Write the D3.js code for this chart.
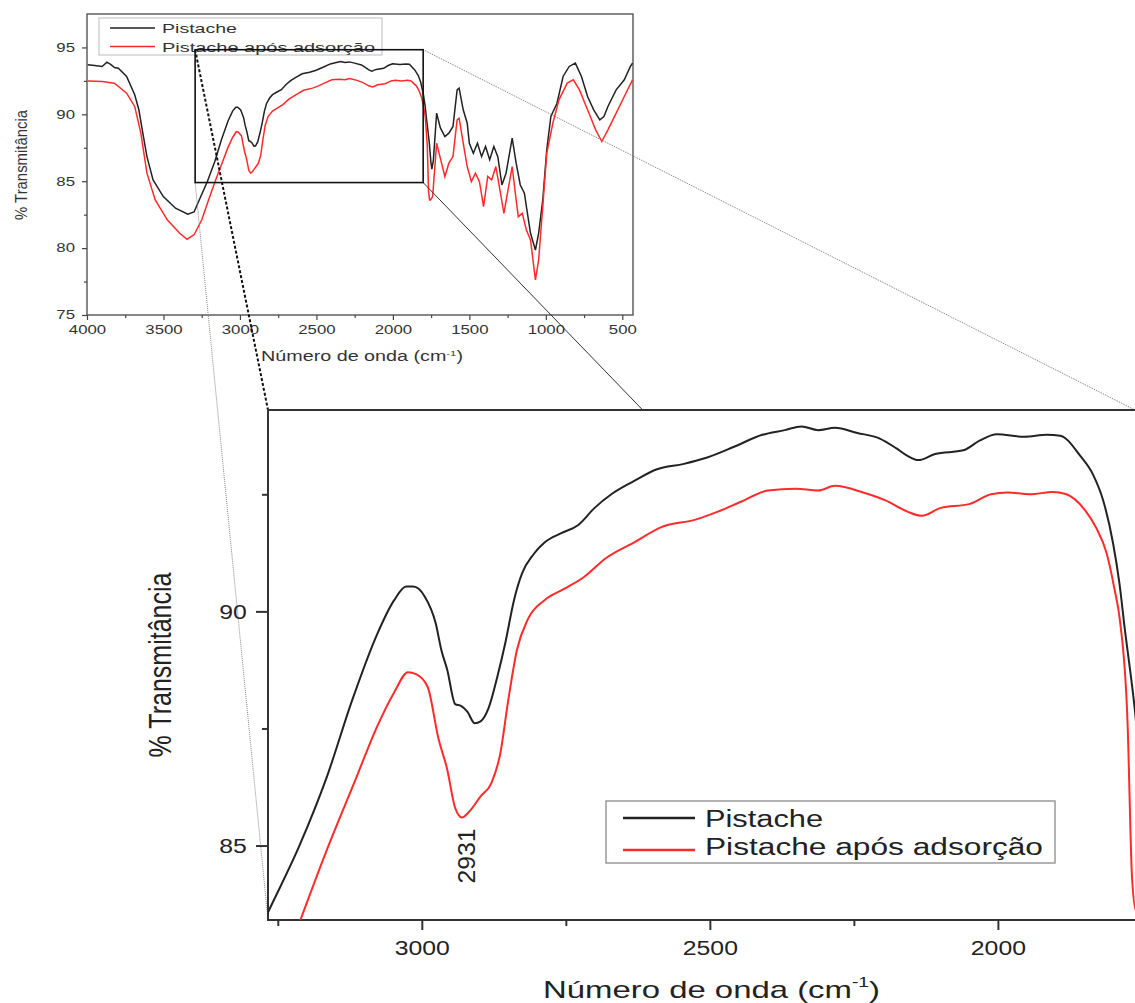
<!DOCTYPE html>
<html>
<head>
<script src="https://d3js.org/d3.v7.min.js"></script>
<style>
  body { margin: 0; background: #fff; }
  svg { display: block; font-family: Arial, "Liberation Sans", sans-serif; }
  .axis path { display: none; }
  .top-axis line { stroke: #444; stroke-width: 1.2px; }
  .top-axis text { font-size: 12px; fill: #333; }
  .zoom-axis line { stroke: #333; stroke-width: 2px; }
  .zoom-axis text { font-size: 21px; fill: #222; }
</style>
</head>
<body>
<script>
// Pistache (black) : [wavenumber cm-1, % transmittance]
var pistache = [
  [3995,93.70],[3950,93.65],[3901,93.58],[3870,93.9],[3848,93.75],[3820,93.5],[3795,93.45],
  [3741,92.83],[3688,91.46],[3661,90.34],[3635,88.59],[3608,86.84],[3568,85.1],[3501,83.85],
  [3421,82.98],[3341,82.53],[3300,82.7],[3266,83.6],[3213,84.98],[3165,86.46],[3121,88.10],
  [3078,89.5],[3048,90.24],[3027,90.53],[3015,90.53],[2995,90.32],[2976,89.75],[2966,89.17],
  [2956,88.76],[2942,88.02],[2932,87.98],[2921,87.86],[2908,87.61],[2898,87.65],[2884,87.94],
  [2869,88.6],[2855,89.33],[2840,90.24],[2826,90.81],[2806,91.22],[2787,91.47],[2758,91.67],
  [2729,91.84],[2700,92.21],[2671,92.5],[2632,92.78],[2593,93.03],[2545,93.15],[2506,93.28],
  [2457,93.52],[2409,93.77],[2370,93.87],[2341,93.95],[2312,93.87],[2283,93.92],[2244,93.81],
  [2205,93.69],[2176,93.48],[2157,93.32],[2138,93.23],[2109,93.36],[2060,93.44],[2031,93.65],
  [2002,93.78],[1954,93.73],[1915,93.77],[1892,93.75],[1857,93.32],[1834,92.9],[1818,92.4],
  [1800,91.45],[1789,90.6],[1779,89.55],[1770,88.7],[1762,87.87],[1752,86.5],[1745,85.9],
  [1735,86.6],[1714,90.09],[1690,89.0],[1660,88.34],[1634,88.59],[1607,89.09],[1580,91.83],
  [1567,91.96],[1540,90.34],[1514,89.34],[1500,87.84],[1474,87.09],[1447,87.84],[1420,86.84],
  [1394,87.59],[1367,86.6],[1340,87.59],[1314,86.84],[1287,84.72],[1260,85.6],[1220,88.22],
  [1194,86.35],[1167,84.72],[1140,84.1],[1127,83.1],[1100,81.11],[1068,79.86],[1047,81.11],
  [1020,83.6],[994,87.34],[967,89.84],[927,90.83],[887,92.83],[847,93.58],[807,93.83],
  [767,92.83],[727,91.33],[687,90.34],[647,89.59],[620,89.84],[594,90.59],[540,91.83],
  [487,92.58],[447,93.58],[433,93.83]
];

// Pistache após adsorção (red)
var pistacheAds = [
  [3995,92.5],[3900,92.45],[3821,92.33],[3741,91.58],[3688,90.59],[3648,88.59],[3608,85.6],
  [3554,83.6],[3474,82.1],[3394,81.11],[3346,80.66],[3300,81.0],[3250,82.1],[3208,83.5],
  [3165,84.9],[3116,86.38],[3078,87.53],[3048,88.27],[3024,88.7],[3010,88.66],[2990,88.39],
  [2971,87.28],[2956,86.63],[2942,85.80],[2930,85.6],[2918,85.72],[2898,86.05],[2879,86.34],
  [2864,86.95],[2850,88.1],[2835,89.17],[2816,89.83],[2787,90.24],[2753,90.48],[2719,90.73],
  [2680,91.14],[2632,91.47],[2584,91.8],[2525,91.96],[2486,92.13],[2448,92.33],[2399,92.58],
  [2351,92.62],[2312,92.58],[2283,92.68],[2234,92.54],[2195,92.37],[2157,92.13],[2132,92.04],
  [2099,92.21],[2050,92.29],[2012,92.5],[1983,92.54],[1944,92.5],[1905,92.55],[1881,92.5],
  [1847,92.13],[1830,91.8],[1811,91.23],[1798,90.5],[1788,89.79],[1775,87.65],[1767,84.28],
  [1760,83.6],[1754,83.6],[1740,83.85],[1714,87.84],[1687,86.6],[1660,85.35],[1634,86.35],
  [1607,86.84],[1580,89.59],[1567,89.71],[1540,87.84],[1514,86.1],[1487,84.97],[1460,85.6],
  [1434,84.97],[1407,83.1],[1380,85.35],[1354,85.1],[1327,86.1],[1300,84.35],[1274,82.6],
  [1247,84.35],[1220,86.1],[1194,83.6],[1180,82.35],[1154,82.6],[1127,81.36],[1100,80.61],
  [1068,77.62],[1047,79.11],[1020,83.1],[994,87.09],[954,89.34],[914,91.08],[860,92.33],
  [820,92.58],[780,91.83],[727,90.34],[674,88.84],[634,87.97],[594,88.84],[540,90.09],
  [487,91.33],[433,92.58]
];

var seriesNames = ["Pistache", "Pistache após adsorção"];
var seriesColors = ["#222", "#ff2a2a"];

var topXTicks = [4000, 3500, 3000, 2500, 2000, 1500, 1000, 500];
var topXMinor = [3750, 3250, 2750, 2250, 1750, 1250, 750];
var topYTicks = [75, 80, 85, 90, 95];
var topYMinor = [77.5, 82.5, 87.5, 92.5];

var zoomXTicks = [3000, 2500, 2000];
var zoomXMinor = [3250, 2750, 2250];
var zoomYTicks = [85, 90];
var zoomYMinor = [87.5, 92.5];

// zoomed window drawn on the overview
var zoomWn = [3293, 1802];
var zoomT = [84.9, 94.83];
var peakWn = 2931;

var width = 1135, height = 1003;
var fmt = d3.format("d");
var svg = d3.select("body").append("svg")
    .attr("width", width)
    .attr("height", height);

// ---------- overview chart ----------
var xt = d3.scaleLinear().domain([4000, 430]).range([87, 633]);
var yt = d3.scaleLinear().domain([75, 97.5]).range([315, 14]);

var overview = svg.append("g");

overview.append("rect")
    .attr("x", 87).attr("y", 14)
    .attr("width", 633 - 87).attr("height", 315 - 14)
    .attr("fill", "#fff").attr("stroke", "#555").attr("stroke-width", 1.4);

overview.append("g").attr("class", "axis top-axis")
    .attr("transform", "translate(0,315)")
    .call(d3.axisBottom(xt).tickValues(topXTicks).tickFormat(fmt).tickSize(5).tickPadding(5).tickSizeOuter(0))
  .selectAll("text").attr("transform", "scale(1.4,1)");
overview.append("g").attr("class", "axis top-axis")
    .attr("transform", "translate(0,315)")
    .call(d3.axisBottom(xt).tickValues(topXMinor).tickSize(3).tickFormat("").tickSizeOuter(0));
overview.append("g").attr("class", "axis top-axis")
    .attr("transform", "translate(87,0)")
    .call(d3.axisLeft(yt).tickValues(topYTicks).tickFormat(fmt).tickSize(5).tickPadding(3.6).tickSizeOuter(0))
  .selectAll("text").attr("transform", "scale(1.4,1)");
overview.append("g").attr("class", "axis top-axis")
    .attr("transform", "translate(87,0)")
    .call(d3.axisLeft(yt).tickValues(topYMinor).tickSize(3).tickFormat("").tickSizeOuter(0));

var lineTop = d3.line()
    .x(function(d) { return xt(d[0]); })
    .y(function(d) { return yt(d[1]); });

overview.selectAll(".top-series")
    .data([pistache, pistacheAds])
  .enter().append("path")
    .attr("class", "top-series")
    .attr("fill", "none")
    .attr("stroke", function(d, i) { return seriesColors[i]; })
    .attr("stroke-width", 1.5)
    .attr("d", lineTop);

// overview legend
overview.append("rect")
    .attr("x", 99).attr("y", 18).attr("width", 283).attr("height", 37)
    .attr("fill", "#fff").attr("stroke", "#bbb").attr("stroke-width", 1);
var topLegend = overview.selectAll(".top-leg")
    .data(seriesNames)
  .enter().append("g")
    .attr("class", "top-leg")
    .attr("transform", function(d, i) { return "translate(0," + (28 + i * 18.5) + ")"; });
topLegend.append("line")
    .attr("x1", 110).attr("x2", 155)
    .attr("stroke", function(d, i) { return seriesColors[i]; })
    .attr("stroke-width", 1.5);
topLegend.append("text")
    .attr("x", 162).attr("y", 5)
    .attr("font-size", 13.5).attr("fill", "#333")
    .attr("textLength", function(d, i) { return i ? 213 : 75; })
    .attr("lengthAdjust", "spacingAndGlyphs")
    .text(function(d) { return d; });

var topXLabel = overview.append("text")
    .attr("x", 261).attr("y", 361)
    .attr("font-size", 14).attr("fill", "#333")
    .attr("textLength", 202).attr("lengthAdjust", "spacingAndGlyphs");
topXLabel.append("tspan").text("Número de onda (cm");
topXLabel.append("tspan").attr("dy", -5).attr("font-size", 8).text("-1");
topXLabel.append("tspan").attr("dy", 5).text(")");

overview.append("text")
    .attr("transform", "translate(26.5,165) rotate(-90) scale(1,1.3)")
    .attr("text-anchor", "middle")
    .attr("font-size", 13).attr("fill", "#333")
    .attr("textLength", 110).attr("lengthAdjust", "spacingAndGlyphs")
    .text("% Transmitância");

// zoom window on the overview
var bx0 = xt(zoomWn[0]), bx1 = xt(zoomWn[1]);
var by0 = yt(zoomT[1]), by1 = yt(zoomT[0]);

// ---------- zoomed chart geometry ----------
var zl = 268, zr = 1135, zt = 410, zb = 920;
var xz = d3.scaleLinear().domain([3267, 1762]).range([zl, zr]);
var yz = d3.scaleLinear().domain([83.41, 94.3]).range([zb, zt]);

// connector lines
var connectors = [
  { a: [bx0, by0], b: [zl, zt], color: "#111", w: 2, dash: "3,2" },
  { a: [bx0, by1], b: [zl, zb], color: "#888", w: 1, dash: "1,1" },
  { a: [bx1, by0], b: [zr, zt], color: "#777", w: 1, dash: "1,1" },
  { a: [bx1, by1], b: [zr, zb], color: "#333", w: 1, dash: null }
];
svg.selectAll(".connector")
    .data(connectors)
  .enter().append("line")
    .attr("class", "connector")
    .attr("x1", function(d) { return d.a[0]; })
    .attr("y1", function(d) { return d.a[1]; })
    .attr("x2", function(d) { return d.b[0]; })
    .attr("y2", function(d) { return d.b[1]; })
    .attr("stroke", function(d) { return d.color; })
    .attr("stroke-width", function(d) { return d.w; })
    .attr("stroke-dasharray", function(d) { return d.dash; });

svg.append("rect")
    .attr("x", bx0).attr("y", by0)
    .attr("width", bx1 - bx0).attr("height", by1 - by0)
    .attr("fill", "none").attr("stroke", "#111").attr("stroke-width", 1.6);

// ---------- zoomed chart ----------
var zoom = svg.append("g");

zoom.append("rect")
    .attr("x", zl).attr("y", zt)
    .attr("width", zr - zl + 4).attr("height", zb - zt)
    .attr("fill", "#fff").attr("stroke", "#333").attr("stroke-width", 2);

svg.append("defs").append("clipPath").attr("id", "zclip")
  .append("rect")
    .attr("x", zl).attr("y", zt)
    .attr("width", zr - zl).attr("height", zb - zt);

var lineZoom = d3.line()
    .curve(d3.curveMonotoneX)
    .x(function(d) { return xz(d[0]); })
    .y(function(d) { return yz(d[1]); });

zoom.append("g").attr("clip-path", "url(#zclip)")
  .selectAll(".zoom-series")
    .data([pistache, pistacheAds])
  .enter().append("path")
    .attr("class", "zoom-series")
    .attr("fill", "none")
    .attr("stroke", function(d, i) { return seriesColors[i]; })
    .attr("stroke-width", 2)
    .attr("d", lineZoom);

zoom.append("g").attr("class", "axis zoom-axis")
    .attr("transform", "translate(0," + zb + ")")
    .call(d3.axisBottom(xz).tickValues(zoomXTicks).tickFormat(fmt).tickSize(10).tickPadding(10).tickSizeOuter(0))
  .selectAll("text").attr("transform", "scale(1.18,1)");
zoom.append("g").attr("class", "axis zoom-axis")
    .attr("transform", "translate(0," + zb + ")")
    .call(d3.axisBottom(xz).tickValues(zoomXMinor).tickSize(6).tickFormat("").tickSizeOuter(0));
zoom.append("g").attr("class", "axis zoom-axis")
    .attr("transform", "translate(" + zl + ",0)")
    .call(d3.axisLeft(yz).tickValues(zoomYTicks).tickFormat(fmt).tickSize(12).tickPadding(6).tickSizeOuter(0))
  .selectAll("text").attr("transform", "scale(1.18,1)");
zoom.append("g").attr("class", "axis zoom-axis")
    .attr("transform", "translate(" + zl + ",0)")
    .call(d3.axisLeft(yz).tickValues(zoomYMinor).tickSize(6).tickFormat("").tickSizeOuter(0));

// peak annotation
zoom.append("text")
    .attr("transform", "translate(" + (xz(peakWn) + 13) + "," + (yz(85.6) + 66) + ") rotate(-90)")
    .attr("font-size", 23).attr("fill", "#222")
    .attr("textLength", 55).attr("lengthAdjust", "spacingAndGlyphs")
    .text(String(peakWn));

// zoomed legend
zoom.append("rect")
    .attr("x", 606).attr("y", 801).attr("width", 449).attr("height", 62)
    .attr("fill", "#fff").attr("stroke", "#999").attr("stroke-width", 1.5);
var zoomLegend = zoom.selectAll(".zoom-leg")
    .data(seriesNames)
  .enter().append("g")
    .attr("class", "zoom-leg")
    .attr("transform", function(d, i) { return "translate(0," + (818 + i * 32) + ")"; });
zoomLegend.append("line")
    .attr("x1", 623).attr("x2", 695)
    .attr("stroke", function(d, i) { return seriesColors[i]; })
    .attr("stroke-width", 2.5);
zoomLegend.append("text")
    .attr("x", 705).attr("y", function(d, i) { return i ? 5 : 8.5; })
    .attr("font-size", 23).attr("fill", "#222")
    .attr("textLength", function(d, i) { return i ? 338 : 118; })
    .attr("lengthAdjust", "spacingAndGlyphs")
    .text(function(d) { return d; });

var zoomXLabel = zoom.append("text")
    .attr("x", 543).attr("y", 998)
    .attr("font-size", 24).attr("fill", "#222")
    .attr("textLength", 337).attr("lengthAdjust", "spacingAndGlyphs");
zoomXLabel.append("tspan").text("Número de onda (cm");
zoomXLabel.append("tspan").attr("dy", -11).attr("font-size", 14).text("-1");
zoomXLabel.append("tspan").attr("dy", 11).text(")");

zoom.append("text")
    .attr("transform", "translate(171,665) rotate(-90) scale(1,1.25)")
    .attr("text-anchor", "middle")
    .attr("font-size", 25).attr("fill", "#222")
    .attr("textLength", 185).attr("lengthAdjust", "spacingAndGlyphs")
    .text("% Transmitância");
</script>
</body>
</html>
